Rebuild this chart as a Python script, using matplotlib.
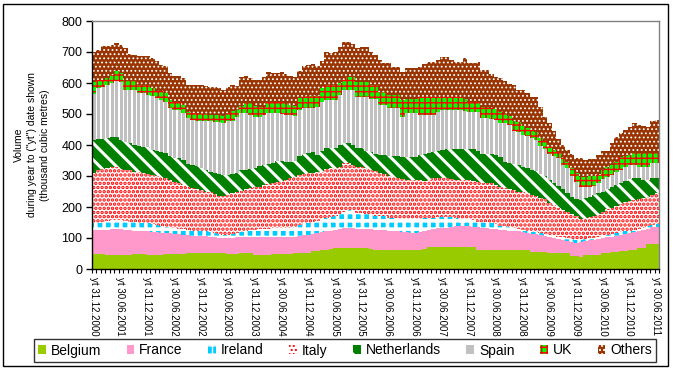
import numpy as np
import matplotlib
matplotlib.use("Agg")
import matplotlib.pyplot as plt
from matplotlib.patches import Rectangle

plt.rcParams['font.family'] = ['Liberation Sans', 'DejaVu Sans']

# ---------------- data (thousand cubic metres, year-to-date, monthly) ----------------
tick_labels = ["yt 31.12.2000", "yt 30.06.2001", "yt 31.12.2001", "yt 30.06.2002",
               "yt 31.12.2002", "yt 30.06.2003", "yt 31.12.2003", "yt 30.06.2004",
               "yt 31.12.2004", "yt 30.06.2005", "yt 31.12.2005", "yt 30.06.2006",
               "yt 31.12.2006", "yt 30.06.2007", "yt 31.12.2007", "yt 30.06.2008",
               "yt 31.12.2008", "yt 30.06.2009", "yt 31.12.2009", "yt 30.06.2010",
               "yt 31.12.2010", "yt 30.06.2011"]

belgium = [48, 48, 48, 45, 45, 45, 45, 45, 45, 48,
           48, 48, 45, 45, 45, 45, 48, 48, 48, 48,
           48, 51, 51, 51, 51, 51, 51, 53, 53, 53,
           48, 48, 48, 51, 51, 51, 45, 45, 45, 45,
           48, 48, 48, 48, 48, 51, 51, 51, 51, 59,
           59, 62, 62, 64, 67, 67, 67, 67, 67, 67,
           67, 67, 64, 62, 62, 62, 61, 60, 60, 60,
           60, 61, 62, 62, 63, 70, 70, 70, 72, 72,
           72, 72, 72, 72, 72, 72, 62, 62, 62, 61,
           61, 61, 61, 61, 61, 61, 61, 61, 56, 56,
           56, 56, 51, 51, 51, 51, 51, 42, 42, 40,
           45, 45, 45, 45, 51, 51, 54, 54, 59, 59,
           62, 62, 67, 67, 80, 80, 80]

france = [78, 78, 78, 82, 83, 83, 83, 81, 80, 76,
          75, 74, 76, 75, 74, 72, 68, 67, 66, 64,
          62, 58, 57, 56, 56, 55, 53, 49, 47, 46,
          51, 53, 55, 53, 52, 51, 57, 57, 57, 59,
          56, 56, 56, 55, 55, 53, 55, 58, 59, 53,
          56, 56, 59, 60, 59, 63, 64, 64, 64, 63,
          62, 61, 64, 65, 64, 63, 63, 63, 61, 60,
          58, 55, 53, 56, 59, 56, 60, 61, 59, 61,
          65, 67, 67, 67, 66, 64, 72, 70, 69, 69,
          67, 65, 64, 63, 63, 60, 57, 55, 58, 57,
          54, 51, 53, 49, 47, 43, 40, 45, 43, 48,
          45, 47, 49, 51, 48, 51, 50, 53, 51, 54,
          54, 58, 56, 59, 49, 54, 57]

ireland = [22, 24, 27, 28, 30, 30, 29, 29, 28, 28,
           27, 26, 26, 25, 23, 23, 21, 20, 19, 18,
           18, 17, 16, 16, 15, 15, 15, 14, 12, 11,
           11, 12, 13, 15, 19, 23, 24, 26, 27, 26,
           27, 27, 27, 29, 30, 32, 36, 38, 40, 41,
           40, 42, 45, 45, 46, 48, 54, 59, 57, 52,
           51, 50, 47, 45, 44, 45, 42, 40, 41, 40,
           42, 44, 45, 44, 41, 37, 35, 36, 36, 34,
           30, 26, 23, 21, 22, 21, 19, 21, 21, 20,
           17, 14, 13, 11, 8, 9, 7, 6, 6, 5,
           5, 5, 4, 6, 6, 8, 9, 10, 9, 6,
           6, 7, 7, 7, 7, 8, 9, 9, 8, 8,
           8, 7, 7, 7, 9, 9, 8]

italy = [163, 170, 169, 170, 172, 172, 165, 163, 165, 162,
         164, 161, 160, 159, 158, 156, 156, 152, 149, 149,
         143, 140, 137, 134, 133, 129, 128, 126, 124, 124,
         129, 131, 134, 134, 135, 136, 138, 138, 141, 145,
         148, 151, 151, 155, 160, 162, 162, 160, 159, 158,
         159, 154, 156, 156, 153, 152, 156, 151, 147, 148,
         150, 147, 144, 143, 139, 135, 134, 135, 133, 130,
         127, 127, 127, 124, 122, 125, 127, 126, 126, 126,
         123, 123, 125, 127, 127, 128, 127, 125, 125, 126,
         125, 125, 122, 123, 124, 120, 123, 122, 120, 117,
         115, 113, 105, 99, 93, 88, 83, 81, 76, 66,
         67, 69, 71, 73, 79, 82, 85, 88, 92, 96,
         96, 96, 96, 97, 95, 97, 99]

netherlands = [106, 99, 97, 97, 97, 95, 95, 93, 88, 87,
               83, 86, 86, 80, 81, 83, 81, 76, 75, 78,
               81, 73, 75, 74, 70, 70, 67, 69, 71, 70,
               65, 63, 61, 65, 63, 61, 61, 65, 66, 64,
               62, 65, 65, 57, 51, 52, 59, 63, 65, 65,
               54, 68, 67, 64, 64, 70, 66, 66, 65, 59,
               59, 55, 59, 55, 59, 63, 66, 67, 68, 72,
               75, 75, 75, 82, 85, 87, 86, 87, 91, 93,
               96, 98, 99, 99, 99, 101, 100, 94, 94, 94,
               98, 95, 85, 83, 84, 86, 82, 82, 80, 80,
               78, 75, 74, 73, 71, 68, 62, 54, 55, 63,
               65, 65, 66, 68, 65, 66, 67, 68, 67, 66,
               70, 70, 66, 56, 55, 52, 49]

spain = [147, 165, 168, 172, 173, 180, 185, 165, 170, 175,
         170, 172, 169, 173, 170, 167, 166, 156, 157, 157,
         151, 148, 145, 148, 151, 156, 162, 162, 166, 166,
         172, 172, 179, 185, 183, 175, 165, 159, 161, 164,
         162, 156, 154, 153, 153, 144, 151, 149, 145, 143,
         156, 158, 156, 156, 156, 161, 170, 170, 177, 167,
         167, 176, 172, 180, 161, 161, 152, 153, 155, 129,
         140, 140, 140, 129, 127, 122, 119, 125, 129, 127,
         127, 127, 127, 124, 122, 122, 128, 116, 115, 114,
         114, 112, 125, 125, 106, 107, 102, 102, 102, 101,
         90, 88, 85, 87, 90, 77, 81, 68, 55, 42,
         37, 32, 30, 32, 40, 40, 38, 40, 43, 47,
         45, 42, 38, 44, 40, 49, 48]

uk = [38, 26, 23, 22, 26, 35, 30, 29, 29, 29,
      27, 27, 32, 27, 22, 27, 27, 27, 26, 26,
      27, 21, 22, 24, 25, 25, 21, 24, 24, 24,
      27, 32, 24, 24, 32, 38, 37, 34, 27, 37,
      37, 37, 39, 38, 33, 33, 37, 35, 38, 38,
      33, 45, 49, 49, 49, 38, 33, 43, 43, 48,
      48, 48, 44, 44, 43, 43, 43, 43, 43, 54,
      48, 48, 48, 59, 59, 59, 59, 51, 43, 43,
      43, 43, 43, 40, 32, 32, 32, 36, 38, 34,
      33, 33, 30, 29, 32, 31, 28, 27, 26, 27,
      25, 24, 20, 20, 20, 23, 19, 26, 30, 33,
      33, 35, 32, 27, 29, 32, 32, 34, 42, 35,
      33, 38, 43, 43, 45, 32, 32]

others = [97, 97, 108, 102, 98, 89, 92, 108, 89, 86,
          92, 92, 92, 96, 97, 86, 87, 86, 81, 81,
          86, 86, 91, 91, 93, 88, 90, 90, 87, 84,
          84, 83, 75, 92, 89, 81, 84, 87, 95, 94,
          92, 92, 97, 95, 94, 92, 89, 100, 102, 105,
          97, 85, 105, 103, 105, 118, 123, 113, 105, 108,
          113, 113, 107, 96, 102, 91, 102, 92, 92, 92,
          97, 97, 97, 97, 104, 113, 113, 118, 129, 129,
          118, 113, 113, 131, 124, 124, 129, 118, 118, 112,
          105, 110, 105, 103, 116, 103, 117, 112, 106, 111,
          101, 79, 78, 60, 42, 42, 40, 44, 47, 59,
          54, 55, 55, 65, 63, 52, 70, 79, 78, 83,
          91, 97, 91, 87, 85, 105, 108]

series_names = ["Belgium", "France", "Ireland", "Italy",
                "Netherlands", "Spain", "UK", "Others"]
series_values = [belgium, france, ireland, italy, netherlands, spain, uk, others]

# ---------------- styles ----------------
styles = {
    "Belgium":     dict(face="#99CC00", hatch=None, hcol=None, hlw=None, width=1.0),
    "France":      dict(face="#FF99CC", hatch=None, hcol=None, hlw=None, width=1.0),
    "Ireland":     dict(face="#00CCFF", hatch="++", hcol="white", hlw=2.6, width=1.0),
    "Italy":       dict(face="white", hatch="....", hcol="#FF0000", hlw=1.7, width=1.0),
    "Netherlands": dict(face="#008000", hatch="\\\\", hcol="white", hlw=2.2, width=1.0),
    "Spain":       dict(face="#C0C0C0", hatch=None, hcol=None, hlw=None, width=0.68),
    "UK":          dict(face="#00FF00", hatch="+++", hcol="#FF0000", hlw=1.0, width=1.0),
    "Others":      dict(face="#993300", hatch="....", hcol="white", hlw=0.8, width=1.0),
}

n = len(belgium)
x = np.arange(n)

fig = plt.figure(figsize=(6.73, 3.71), dpi=100)
fig.patch.set_facecolor("white")
ax = fig.add_axes([92 / 673, 1 - 269 / 371, 567 / 673, 248 / 371])

bottom = np.zeros(n)
handles = []
for name, vals in zip(series_names, series_values):
    st = styles[name]
    vals = np.asarray(vals, dtype=float)
    kw = dict(width=st["width"], bottom=bottom, color=st["face"], linewidth=0,
              align="center", label=name)
    if st["hatch"]:
        kw["hatch"] = st["hatch"]
        kw["edgecolor"] = st["hcol"]
        with plt.rc_context({"hatch.linewidth": st["hlw"]}):
            bars = ax.bar(x, vals, **kw)
            for p in bars.patches:
                if hasattr(p, "set_hatch_linewidth"):
                    p.set_hatch_linewidth(st["hlw"])
    else:
        kw["antialiased"] = False
        bars = ax.bar(x, vals, **kw)
    handles.append(bars)
    bottom = bottom + vals

# ---------------- axes ----------------
ax.set_xlim(-0.5, n - 0.5)
ax.set_ylim(0, 800)
ax.set_yticks(np.arange(0, 801, 100))
ax.tick_params(axis="y", length=4, width=1, direction="out", pad=3, labelsize=9)

ax.set_xticks(np.arange(-0.5, n, 1))
ax.set_xticklabels([])
ax.tick_params(axis="x", which="major", length=3, width=0.8, direction="out")
label_pos = np.arange(0, n, 6) - 0.15
ax.set_xticks(label_pos, minor=True)
ax.set_xticklabels(tick_labels, minor=True, rotation=270, fontsize=7)
ax.tick_params(axis="x", which="minor", length=0, pad=6)

for s in ["left", "bottom"]:
    ax.spines[s].set_color("black")
    ax.spines[s].set_linewidth(1.0)
for s in ["top", "right"]:
    ax.spines[s].set_color("#808080")
    ax.spines[s].set_linewidth(1.0)

fig.text(32 / 673, 1 - 145 / 371,
         'Volume\nduring year to ("yt") date shown\n(thousand cubic metres)',
         rotation=90, ha="center", va="center", multialignment="center",
         fontsize=7.5, linespacing=1.35)

leg = fig.legend(handles, series_names, loc="center",
                 bbox_to_anchor=(345 / 673, 1 - 350.5 / 371), ncol=8,
                 frameon=True, fancybox=False, edgecolor="black", fontsize=10,
                 handlelength=0.55, handleheight=0.55, handletextpad=0.35,
                 columnspacing=1.85, borderpad=0.3, borderaxespad=0)
leg.get_frame().set_linewidth(1.0)

fig.add_artist(Rectangle((3 / 673, 1 - 366 / 371), 665 / 673, 362 / 371,
                         transform=fig.transFigure, fill=False,
                         edgecolor="black", linewidth=1.0))

fig.savefig("out.png", dpi=100, facecolor="white")
